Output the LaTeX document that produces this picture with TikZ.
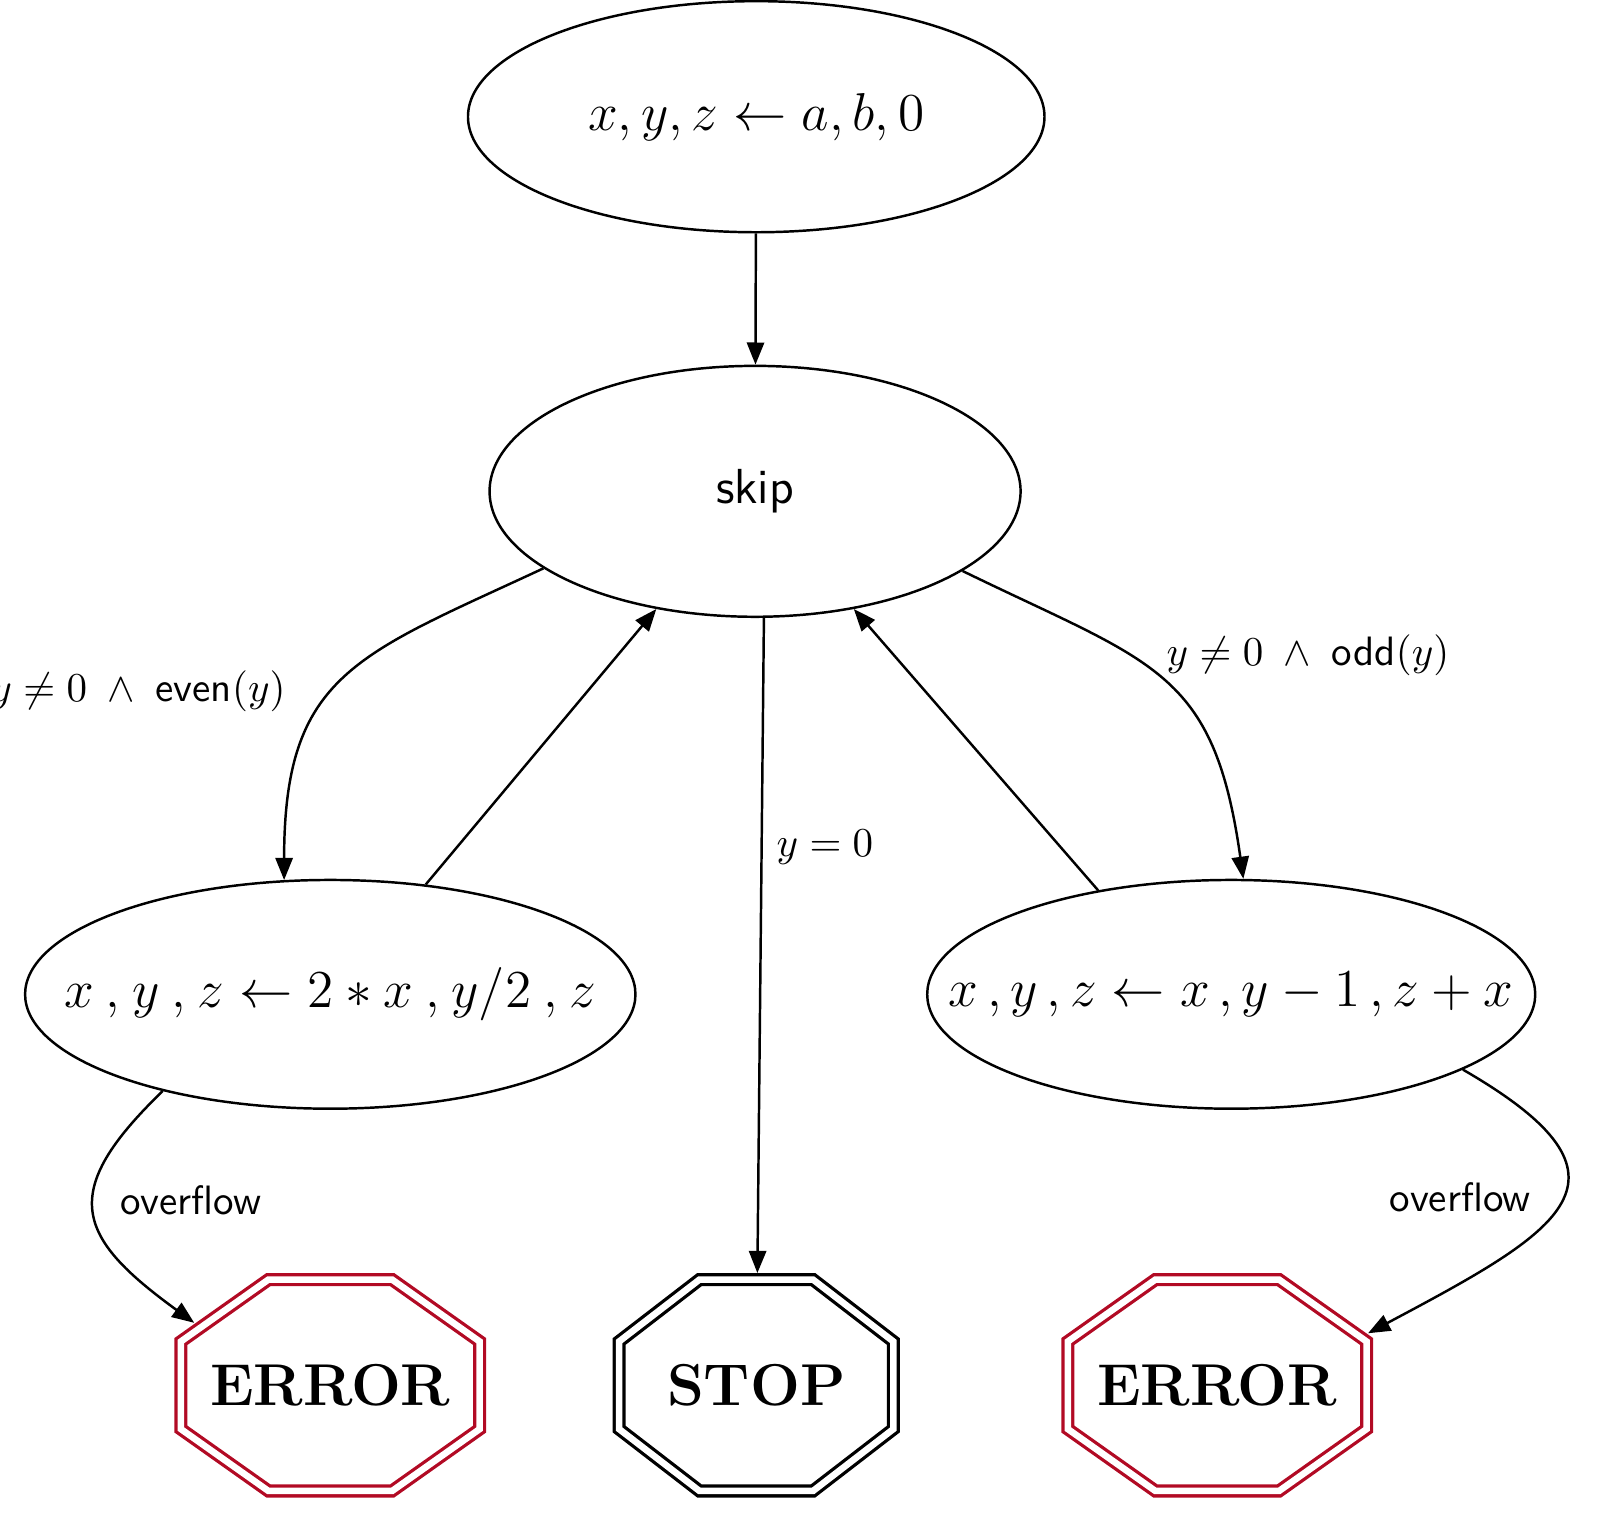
\RequirePackage{fix-cm}
\documentclass[tikz,border=0pt]{standalone}
\usepackage{amsmath}
\usepackage{amssymb}
\usetikzlibrary{arrows.meta,shapes.geometric}

\definecolor{errred}{RGB}{178,10,36}

\begin{document}
\begin{tikzpicture}[>={Triangle[length=5.4pt,width=4.2pt]},semithick,auto,
    stmt/.style={ellipse,draw,inner xsep=-1cm,inner ysep=0pt,font=\fontsize{13}{15}\selectfont},
    halt/.style={regular polygon,regular polygon sides=8,draw,double,line width=.8pt,
      double distance=1.6pt,outer sep=1.6pt,inner sep=0pt,inner xsep=-3mm,minimum size=1.96cm,font=\Large\bfseries},
    cond/.style={font=\sffamily}]
    \node[stmt,minimum width=4.94cm,minimum height=1.98cm] at (6.48,-1.00) (init) {$x, y, z \leftarrow a, b, 0$};
    \node[stmt,minimum width=4.55cm,minimum height=2.15cm,font=\large\sffamily] at (6.47,-4.21) (skip) {skip};
    \node[stmt,minimum width=5.23cm,minimum height=1.96cm] at (2.83,-8.52) (even) {$x\:{,}\:y\:{,}\:z \leftarrow 2 * x\:{,}\:y/2\:{,}\:z$};
    \node[stmt,minimum width=5.21cm,minimum height=1.96cm] at (10.55,-8.52) (odd) {$x\,, y\,, z \leftarrow x\,, y-1\,, z+x$};
    \node[halt,draw=errred,xscale=1.414] at (2.83,-11.87) (err1) {\scalebox{.707}[1]{ERROR}};
    \node[halt,xscale=1.298] at (6.48,-11.87) (stop) {\scalebox{.770}[1]{STOP}};
    \node[halt,draw=errred,xscale=1.414] at (10.43,-11.87) (err2) {\scalebox{.707}[1]{ERROR}};
    \path[->] (init) edge (skip);
    \path[->] (skip.200) edge[out=205,in=90,looseness=1.3] node[pos=.5,left=.37cm,yshift=-1mm] {$y \neq 0 \;\wedge\; \textsf{even}(y)$} (even.112);
    \path[->] (even.49) edge (skip.230);
    \path[->] (skip.274) edge node[pos=.35] {$y = 0$} (stop);
    \path[->] (odd.142) edge (skip.310);
    \path[->] (skip.339) edge[out=334,in=98,looseness=1.3] node[pos=.5,anchor=south west,xshift=-1mm,yshift=-.8mm] {$y \neq 0 \;\wedge\; \textsf{odd}(y)$} (odd.84);
    \path[->] (even.210) edge[out=224,in=144,looseness=1.6] node[cond,pos=.44,right=.1cm] {overflow} (err1.147);
    \path[->] (odd.342) edge[out=330,in=28,looseness=2] node[cond,pos=.47,left=.15cm] {overflow} (err2.26);
    \pgfresetboundingbox
    \useasboundingbox (0,0) rectangle (13.71,-13.10);
\end{tikzpicture}
\end{document}
